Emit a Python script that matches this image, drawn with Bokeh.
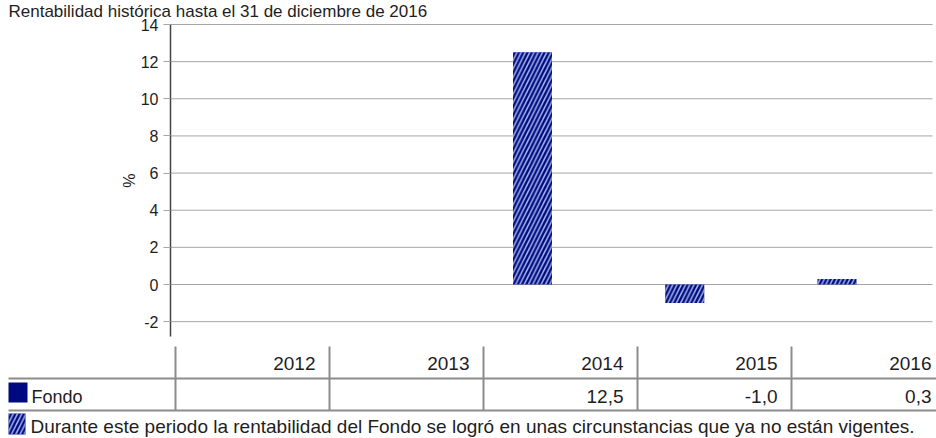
from bokeh.plotting import figure
from bokeh.models import Range1d, FixedTicker, LinearAxis
from bokeh.core.properties import value
from bokeh.embed import file_html
from bokeh.resources import INLINE

# ---------------- data ----------------
years = [2012, 2013, 2014, 2015, 2016]
year_labels = ["2012", "2013", "2014", "2015", "2016"]
fondo = [None, None, 12.5, -1.0, 0.3]
series_name = "Fondo"
y_ticks = [-2, 0, 2, 4, 6, 8, 10, 12, 14]
y_label = "%"
title_text = "Rentabilidad histórica hasta el 31 de diciembre de 2016"
note_text = ("Durante este periodo la rentabilidad del Fondo se logró en unas "
             "circunstancias que ya no están vigentes.")

FONT = "Liberation Sans"
TXT = "#1e1e1e"
NAVY = "#000a80"
HATCH = "#a3b6ea"
TABLE_LINE = "#8c8c8c"
GRID = "#a6a6a6"

W, H = 936, 438

# chart scales (year units horizontally, percent vertically)
x_px = 152.25            # px per year
x0 = 2011.6223           # x at the y-axis
x_start = x0 - 170 / x_px
x_end = x_start + W / x_px
y_lo, y_hi = -2.8, 14
y_px = 312 / (y_hi - y_lo)
y_end = y_hi + 24 / y_px
y_start = y_hi - (H - 24) / y_px

p = figure(width=W, height=H, output_backend="svg", toolbar_location=None,
           x_range=Range1d(x_start, x_end), y_range=Range1d(y_start, y_end),
           x_axis_location=None, y_axis_location=None,
           min_border_left=0, min_border_right=0, min_border_top=0,
           min_border_bottom=0)
p.outline_line_color = None
p.grid.visible = False
p.background_fill_color = "white"
p.border_fill_color = "white"

# grid lines
grid_right = x_start + 932 / x_px
p.segment(x0=[x0] * len(y_ticks), x1=[grid_right] * len(y_ticks),
          y0=y_ticks, y1=y_ticks, line_color=GRID, line_width=1)

# bars
bar_x = [x for x, v in zip(years, fondo) if v is not None]
bar_v = [v for v in fondo if v is not None]
p.vbar(x=bar_x, top=bar_v, bottom=0, width=39 / x_px, fill_color=NAVY,
       line_color=None, hatch_pattern="/", hatch_color=HATCH,
       hatch_scale=8.5, hatch_weight=1.5)

# y axis
ax = LinearAxis(fixed_location=x0, bounds=(y_lo, y_hi),
                ticker=FixedTicker(ticks=y_ticks))
ax.major_label_overrides = {t: str(t) for t in y_ticks}
ax.axis_line_color = "#444444"
ax.axis_line_width = 1.5
ax.major_tick_line_color = "#a8a8a8"
ax.major_tick_out = 7
ax.major_tick_in = 0
ax.minor_tick_line_color = None
ax.major_label_standoff = 5
ax.major_label_text_font = FONT
ax.major_label_text_font_size = "16px"
ax.major_label_text_color = TXT
ax.axis_label = y_label
ax.axis_label_text_font = FONT
ax.axis_label_text_font_size = "16px"
ax.axis_label_text_font_style = "normal"
ax.axis_label_text_color = TXT
ax.axis_label_standoff = 0
p.add_layout(ax, "left")

# ---------------- table (column / row units) ----------------
col_px, col0 = 154, 175
row_px, row0 = 32, 346
p.extra_x_ranges = {"tx": Range1d(-col0 / col_px, (W - col0) / col_px)}
p.extra_y_ranges = {"ty": Range1d(start=(H - row0) / row_px, end=-row0 / row_px)}
T = dict(x_range_name="tx", y_range_name="ty")

def cx(px):
    return (px - col0) / col_px

def ry(py):
    return (py - row0) / row_px

ncol = len(years)
p.segment(x0=[cx(8)] * 2, x1=[ncol + 0.5] * 2, y0=[1, 2], y1=[1, 2],
          line_color=TABLE_LINE, line_width=2, **T)
p.segment(x0=list(range(ncol + 1)), x1=list(range(ncol + 1)),
          y0=[0] * (ncol + 1), y1=[2] * (ncol + 1),
          line_color=TABLE_LINE, line_width=2, **T)

pad = 14 / col_px
TXTKW = dict(text_baseline="middle", text_font=value(FONT), text_color=TXT)
p.text(x=[i + 1 - pad for i in range(ncol)], y=[ry(362.5)] * ncol, text=year_labels,
       text_align="right", text_font_size="19px", **TXTKW, **T)
val_labels = ["" if v is None else f"{v:.1f}".replace(".", ",") for v in fondo]
p.text(x=[i + 1 - pad for i in range(ncol)], y=[ry(396)] * ncol, text=val_labels,
       text_align="right", text_font_size="19px", **TXTKW, **T)

# legend swatches and texts
p.quad(left=[cx(8)], right=[cx(27)], top=[ry(382)], bottom=[ry(402)],
       fill_color=NAVY, line_color=None, **T)
p.text(x=[cx(31)], y=[ry(396.5)], text=[series_name], text_align="left",
       text_font_size="18px", **TXTKW, **T)
p.quad(left=[cx(8)], right=[cx(25)], top=[ry(413)], bottom=[ry(434)],
       fill_color=NAVY, line_color=None, hatch_pattern="/", hatch_color=HATCH,
       hatch_scale=8.5, hatch_weight=1.5, **T)
p.text(x=[cx(30)], y=[ry(425.5)], text=[note_text], text_align="left",
       text_font_size="19px", **TXTKW, **T)

# title
p.text(x=[cx(8)], y=[ry(11)], text=[title_text], text_align="left",
       text_font_size="17px", **TXTKW, **T)

open("out.html", "w").write(file_html(p, INLINE))
